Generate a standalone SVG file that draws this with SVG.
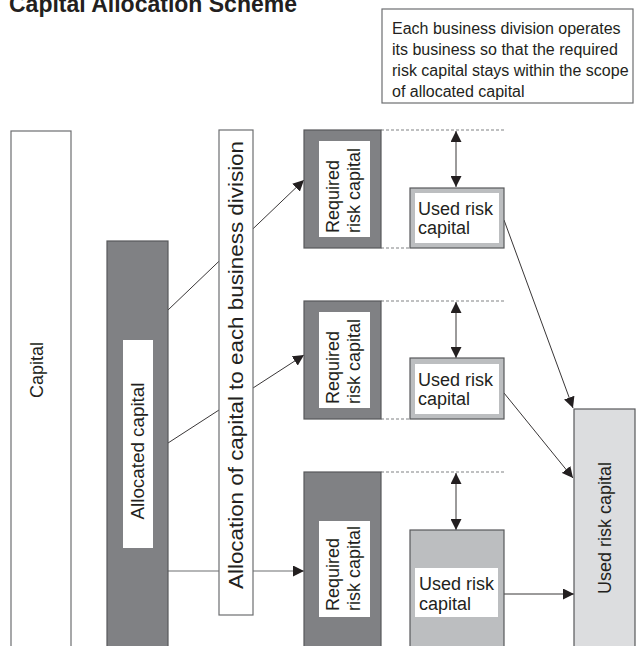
<svg xmlns="http://www.w3.org/2000/svg" width="641" height="646" viewBox="0 0 641 646">
<defs>
<style>
text{font-family:"Liberation Sans",Arial,sans-serif;fill:#231f20}
.t16{font-size:16px}
.t18{font-size:18px}
.t20{font-size:20px}
.title{font-size:23px;font-weight:bold}
.wbox{fill:#fff;stroke:#6d6e71;stroke-width:1.2}
.dark{fill:#808184;stroke:#58595b;stroke-width:1.2}
.used{fill:#bcbec0;stroke:#58595b;stroke-width:1.2}
.big{fill:#dcdddf;stroke:#58595b;stroke-width:1.2}
.inner{fill:#fff}
.ln{stroke:#231f20;stroke-width:0.9;fill:none}
.lg{stroke:#6d6e71;stroke-width:1.2;fill:none}
.dot{stroke:#808184;stroke-width:1.2;stroke-dasharray:3 2;fill:none}
</style>
<marker id="ah" viewBox="0 0 10 10" refX="10" refY="5" markerWidth="11" markerHeight="11" markerUnits="userSpaceOnUse" orient="auto-start-reverse">
<path d="M0,0 L10,5 L0,10 Z" fill="#231f20"/>
</marker>
</defs>

<text class="title" x="9" y="11.5">Capital Allocation Scheme</text>

<g id="note">
<rect class="wbox" x="382" y="9" width="251" height="94"/>
<text class="t16" x="392" y="34">Each business division operates</text>
<text class="t16" x="392" y="55">its business so that the required</text>
<text class="t16" x="392" y="76">risk capital stays within the scope</text>
<text class="t16" x="392" y="97">of allocated capital</text>
</g>

<g id="connectors">
<line class="ln" x1="168" y1="310" x2="304" y2="180" marker-end="url(#ah)"/>
<line class="ln" x1="168" y1="443" x2="304" y2="355" marker-end="url(#ah)"/>
<line class="lg" x1="168" y1="571" x2="304" y2="571" marker-end="url(#ah)"/>
<line class="ln" x1="504" y1="220" x2="573" y2="408" marker-end="url(#ah)"/>
<line class="ln" x1="504" y1="393" x2="573" y2="478" marker-end="url(#ah)"/>
<line class="ln" x1="504" y1="594" x2="574" y2="594" marker-end="url(#ah)"/>
<line class="ln" x1="456" y1="131" x2="456" y2="187" marker-start="url(#ah)" marker-end="url(#ah)"/>
<line class="ln" x1="456" y1="302" x2="456" y2="358" marker-start="url(#ah)" marker-end="url(#ah)"/>
<line class="ln" x1="456" y1="473" x2="456" y2="530" marker-start="url(#ah)" marker-end="url(#ah)"/>
<line class="dot" x1="381" y1="130" x2="504" y2="130"/>
<line class="dot" x1="381" y1="248" x2="410" y2="248"/>
<line class="dot" x1="381" y1="301" x2="504" y2="301"/>
<line class="dot" x1="381" y1="419" x2="410" y2="419"/>
<line class="dot" x1="381" y1="472" x2="504" y2="472"/>
</g>

<g id="capital">
<rect class="wbox" x="11" y="131" width="60" height="530"/>
<text class="t18" transform="translate(43,370) rotate(-90)" text-anchor="middle">Capital</text>
</g>

<g id="allocated">
<rect class="dark" x="107" y="241" width="61" height="420"/>
<rect class="inner" x="123" y="340" width="30" height="208"/>
<text class="t18" transform="translate(144,451) rotate(-90)" text-anchor="middle" textLength="137" lengthAdjust="spacingAndGlyphs">Allocated capital</text>
</g>

<g id="allocation">
<rect class="wbox" x="219" y="130" width="34" height="485"/>
<text class="t20" transform="translate(243,365) rotate(-90)" text-anchor="middle" textLength="448" lengthAdjust="spacingAndGlyphs">Allocation of capital to each business division</text>
</g>

<g id="required1">
<rect class="dark" x="304" y="130" width="77" height="118"/>
<rect class="inner" x="319" y="141" width="51" height="96"/>
<text class="t18" transform="translate(339,233) rotate(-90)">Required</text>
<text class="t18" transform="translate(360,233) rotate(-90)">risk capital</text>
</g>

<g id="required2">
<rect class="dark" x="304" y="301" width="77" height="118"/>
<rect class="inner" x="319" y="312" width="51" height="96"/>
<text class="t18" transform="translate(339,404) rotate(-90)">Required</text>
<text class="t18" transform="translate(360,404) rotate(-90)">risk capital</text>
</g>

<g id="required3">
<rect class="dark" x="304" y="472" width="77" height="190"/>
<rect class="inner" x="319" y="521" width="51" height="96"/>
<text class="t18" transform="translate(339,611) rotate(-90)">Required</text>
<text class="t18" transform="translate(360,611) rotate(-90)">risk capital</text>
</g>

<g id="used1">
<rect class="used" x="410" y="188" width="94" height="60"/>
<rect class="inner" x="415" y="193" width="84" height="50"/>
<text class="t18" x="418" y="215">Used risk</text>
<text class="t18" x="418" y="234">capital</text>
</g>

<g id="used2">
<rect class="used" x="410" y="358" width="94" height="61"/>
<rect class="inner" x="415" y="364" width="84" height="50"/>
<text class="t18" x="418" y="386">Used risk</text>
<text class="t18" x="418" y="405">capital</text>
</g>

<g id="used3">
<rect class="used" x="410" y="530" width="94" height="130"/>
<rect class="inner" x="415" y="568" width="83" height="49"/>
<text class="t18" x="419" y="590">Used risk</text>
<text class="t18" x="419" y="610">capital</text>
</g>

<g id="usedtotal">
<rect class="big" x="574" y="409" width="61" height="250"/>
<text class="t18" transform="translate(611,528) rotate(-90)" text-anchor="middle">Used risk capital</text>
</g>
</svg>
